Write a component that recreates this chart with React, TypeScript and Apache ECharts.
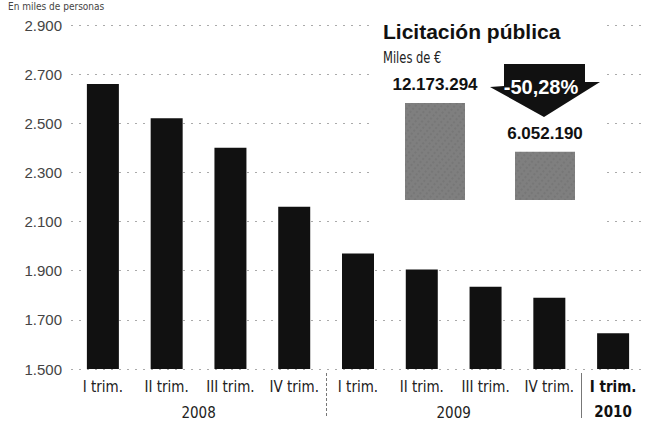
import React, { useEffect, useRef } from "react";
import * as echarts from "echarts";

// ---- data ----
const categories = ["I trim.", "II trim.", "III trim.", "IV trim.", "I trim.", "II trim.", "III trim.", "IV trim.", "I trim.\n2010"];
const values = [2660, 2520, 2400, 2160, 1970, 1905, 1835, 1790, 1645];
const yMin = 1500;
const yMax = 2900;
const yInterval = 200;
const yearLabels = ["2008", "2009"];
const yearSpans = [[0, 3], [4, 7]];
const separatorPairs = [[3, 4], [7, 8]];
const separatorTypes = ["dashed", "solid"];
const yUnit = "En miles de personas";

const insetTitle = "Licitación pública";
const insetUnit = "Miles de €";
const insetCategories = ["2009", "2010"];
const insetValues = [12173294, 6052190];
const insetChange = "-50,28%";

const NARROW = "'Liberation Sans Narrow','DejaVu Sans Condensed','Liberation Sans',sans-serif";
const BOLD = "'Liberation Sans',Arial,sans-serif";

const fmt = (v: number) => String(v).replace(/\B(?=(\d{3})+(?!\d))/g, ".");

export default function App() {
  const ref = useRef<HTMLDivElement>(null);
  useEffect(() => {
    if (!ref.current) return;
    const chart = echarts.init(ref.current, null, { renderer: "svg" });
    const option: any = {
      animation: false,
      backgroundColor: "#ffffff",
      grid: [
        { left: 71, right: 1, top: 25, bottom: 54, outerBoundsMode: "none", containLabel: false },
        { left: 380, width: 220, top: 103, height: 97, outerBoundsMode: "none", containLabel: false },
      ],
      xAxis: [
        {
          type: "category",
          gridIndex: 0,
          data: categories,
          axisLine: { show: false },
          axisTick: { show: false },
          axisLabel: {
            margin: 5,
            fontFamily: NARROW,
            fontSize: 15,
            color: "#222",
            lineHeight: 25,
            interval: 0,
            formatter: (v: string, i: number) => (i === categories.length - 1 ? v.split("\n").map((s) => "{b|" + s + "}").join("\n") : v),
            rich: { b: { fontFamily: NARROW, fontSize: 15, fontWeight: "bold", color: "#111", lineHeight: 25 } },
          },
        },
        {
          type: "category",
          gridIndex: 1,
          data: insetCategories,
          axisLine: { show: false },
          axisTick: { show: false },
          axisLabel: {
            margin: 11,
            fontFamily: NARROW,
            fontSize: 15,
            color: "#222",
            formatter: (v: string, i: number) => (i === 1 ? "{b|" + v + "}" : v),
            rich: { b: { fontFamily: NARROW, fontSize: 15, fontWeight: "bold", color: "#111" } },
          },
        },
      ],
      yAxis: [
        {
          type: "value",
          gridIndex: 0,
          min: yMin,
          max: yMax,
          interval: yInterval,
          axisLine: { show: false },
          axisTick: { show: false },
          axisLabel: { margin: 9, fontFamily: BOLD, fontSize: 15, color: "#444", formatter: (v: number) => fmt(v) },
          splitLine: { show: true, lineStyle: { color: "#aaa", width: 1, type: [2, 6] } },
        },
        {
          type: "value",
          gridIndex: 1,
          min: 0,
          max: insetValues[0],
          show: false,
          splitLine: { show: false },
        },
      ],
      series: [
        {
          type: "bar",
          xAxisIndex: 0,
          yAxisIndex: 0,
          data: values,
          barWidth: 32,
          itemStyle: { color: "#111" },
          z: 2,
        },
        {
          type: "bar",
          xAxisIndex: 1,
          yAxisIndex: 1,
          data: insetValues,
          barWidth: 60,
          z: 5,
          itemStyle: {
            color: "#7f7f7f",
            decal: { symbol: "rect", symbolSize: 0.6, color: "rgba(40,40,40,0.35)", dashArrayX: [2, 3], dashArrayY: [2, 2], rotation: 0.7 },
          },
          label: {
            show: true,
            position: "top",
            distance: 10,
            fontFamily: BOLD,
            fontWeight: "bold",
            fontSize: 17,
            color: "#111",
            formatter: (p: any) => fmt(p.value),
          },
        },
      ],
      graphic: [
        { type: "rect", z: 1, shape: { x: 375, y: 14, width: 232, height: 215 }, style: { fill: "#fff" } },
        { type: "text", z: 10, x: 8, y: 1, style: { text: yUnit, fontFamily: NARROW, fontSize: 10, fill: "#444", textVerticalAlign: "top" } },
        { type: "text", z: 10, x: 383, y: 31, style: { text: insetTitle, fontFamily: BOLD, fontWeight: "bold", fontSize: 21, fill: "#111", textVerticalAlign: "middle" } },
        { type: "text", z: 10, x: 383, y: 57, scaleX: 0.8, style: { text: insetUnit, fontFamily: NARROW, fontSize: 16, fill: "#222", textVerticalAlign: "middle" } },
        {
          type: "polygon",
          z: 10,
          shape: { points: [[504, 64], [585, 64], [585, 82], [600, 82], [544, 117], [490, 87], [504, 86]] },
          style: { fill: "#111" },
        },
        { type: "text", z: 11, x: 541, y: 87, style: { text: insetChange, fontFamily: BOLD, fontWeight: "bold", fontSize: 20, fill: "#fff", textAlign: "center", textVerticalAlign: "middle" } },
      ],
    };
    chart.setOption(option);

    const baseY = chart.convertToPixel({ yAxisIndex: 0 }, yMin) as number;
    const extra: any[] = [];
    yearLabels.forEach((lab, i) => {
      const a = chart.convertToPixel({ xAxisIndex: 0 }, yearSpans[i][0]) as number;
      const b = chart.convertToPixel({ xAxisIndex: 0 }, yearSpans[i][1]) as number;
      extra.push({
        type: "text",
        z: 10,
        x: (a + b) / 2,
        y: baseY + 44,
        style: { text: lab, fontFamily: NARROW, fontSize: 15, fill: "#222", textAlign: "center", textVerticalAlign: "middle" },
      });
    });
    separatorPairs.forEach((pr, i) => {
      const a = chart.convertToPixel({ xAxisIndex: 0 }, pr[0]) as number;
      const b = chart.convertToPixel({ xAxisIndex: 0 }, pr[1]) as number;
      const x = Math.round((a + b) / 2) + 0.5;
      extra.push({
        type: "line",
        z: 10,
        shape: { x1: x, y1: baseY + 4, x2: x, y2: baseY + 49 },
        style: { stroke: "#777", lineWidth: 1, lineDash: separatorTypes[i] === "dashed" ? [3, 2] : null },
      });
    });
    chart.setOption({ graphic: [...option.graphic, ...extra] });

    return () => chart.dispose();
  }, []);
  return <div ref={ref} style={{ position: "fixed", left: 0, top: 0, width: 646, height: 423 }} />;
}
